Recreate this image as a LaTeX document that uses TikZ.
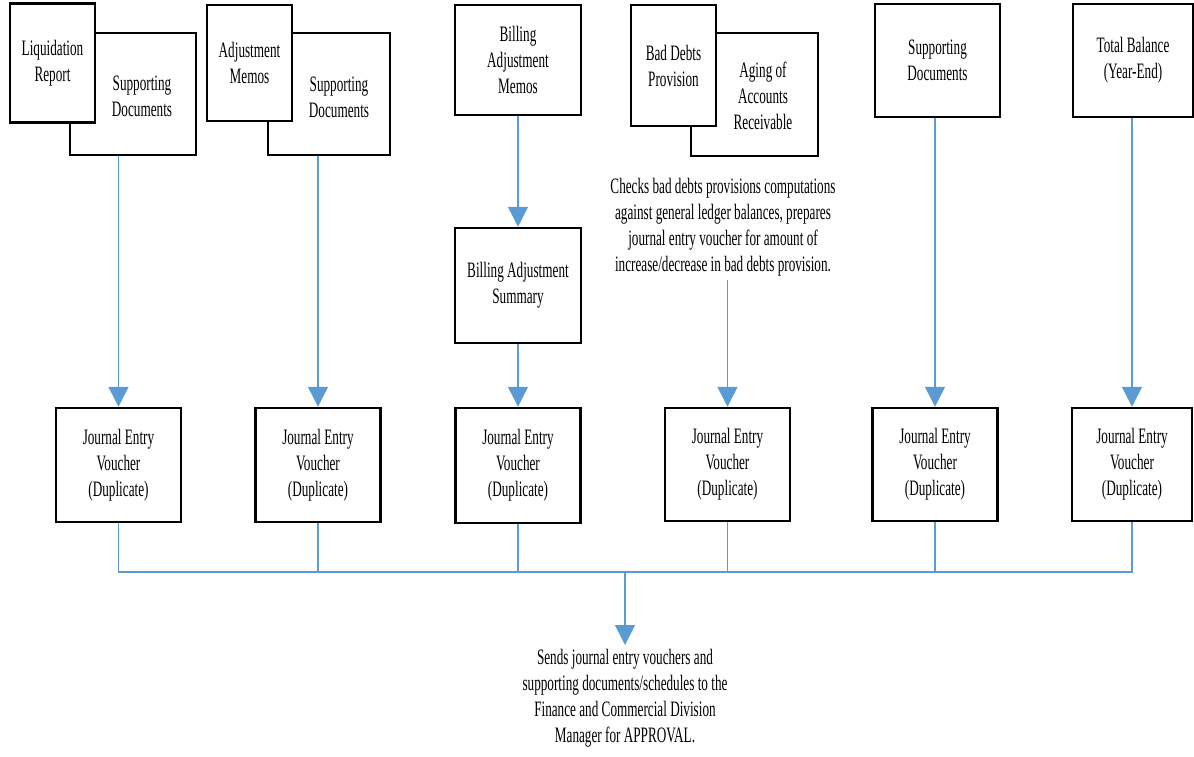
\documentclass[tikz,border=0pt]{standalone}
\usepackage{fontspec}
\setmainfont{Liberation Serif}[FakeStretch=0.6]
\usetikzlibrary{arrows.meta}

\definecolor{flowblue}{RGB}{91,155,213}

\tikzset{
  doc/.style={draw, line width=2.5pt, fill=white, align=center, inner sep=0pt},
  txt/.style={align=center, inner sep=4pt},
  flow/.style={draw=flowblue, line width=1.5pt},
  tip/.style={-{Triangle[length=20pt,width=20pt]}, flowblue}
}

\begin{document}
\begin{tikzpicture}[x=1pt, y=-1pt, font=\fontsize{22}{26}\selectfont]
\useasboundingbox (0,0) rectangle (1194,757);

% back boxes first, front boxes over them
\node[doc, minimum width=126pt, minimum height=122pt] (sup1) at (133,94) {};
\node[doc, minimum width=85pt, minimum height=119pt] (liq) at (52.5,63) {Liquidation\\Report};
\node[txt] (sup1txt) at (142,96.5) {Supporting\\Documents};

\node[doc, minimum width=122pt, minimum height=122pt] (sup2) at (329,94) {};
\node[doc, minimum width=85pt, minimum height=116pt] (adj) at (249.5,63) {Adjustment\\Memos};
\node[txt] (sup2txt) at (339,97) {Supporting\\Documents};

\node[doc, minimum width=126pt, minimum height=110pt] (bam) at (518,60) {Billing\\Adjustment\\Memos};
\node[doc, minimum width=126pt, minimum height=115pt] (bas) at (518,285.5) {Billing Adjustment\\Summary};

\node[doc, minimum width=127pt, minimum height=123pt] (aging) at (754.5,94.5) {};
\node[doc, minimum width=85pt, minimum height=121pt] (bdp) at (673.5,65.5) {Bad Debts\\Provision};
\node[txt] (agingtxt) at (763,96) {Aging of\\Accounts\\Receivable};
\node[txt, anchor=north] (check) at (723,174) {Checks bad debts provisions computations\\against general ledger balances, prepares\\journal entry voucher for amount of\\increase/decrease in bad debts provision.};

\node[doc, minimum width=125pt, minimum height=113pt] (sup5) at (937.5,60.5) {Supporting\\Documents};
\node[doc, minimum width=120pt, minimum height=113pt] (tot) at (1133,60.5) {Total Balance\\(Year-End)};

% journal entry vouchers
\node[doc, minimum width=125pt, minimum height=114pt] (jev1) at (118.5,465) {Journal Entry\\Voucher\\(Duplicate)};
\node[doc, minimum width=125pt, minimum height=114pt] (jev2) at (318,465) {Journal Entry\\Voucher\\(Duplicate)};
\node[doc, minimum width=125pt, minimum height=115pt] (jev3) at (518,465.5) {Journal Entry\\Voucher\\(Duplicate)};
\node[doc, minimum width=125pt, minimum height=113pt] (jev4) at (727.5,464.5) {Journal Entry\\Voucher\\(Duplicate)};
\node[doc, minimum width=125pt, minimum height=113pt] (jev5) at (935,464.5) {Journal Entry\\Voucher\\(Duplicate)};
\node[doc, minimum width=120pt, minimum height=113pt] (jev6) at (1132,464.5) {Journal Entry\\Voucher\\(Duplicate)};

\coordinate (bus) at (625,572);
\node[txt, anchor=north] (approve) at (625,645) {Sends journal entry vouchers and\\supporting documents/schedules to the\\Finance and Commercial Division\\Manager for APPROVAL.};

% down into the vouchers
\draw[flow,tip] (jev1.north |- sup1.south) -- (jev1.north);
\draw[flow,tip] (jev2.north |- sup2.south) -- (jev2.north);
\draw[flow,tip] (bam.south) -- (bas.north);
\draw[flow,tip] (bas.south) -- (jev3.north);
\draw[flow,tip] (jev4.north |- check.south) -- (jev4.north);
\draw[flow,tip] (jev5.north |- sup5.south) -- (jev5.north);
\draw[flow,tip] (jev6.north |- tot.south) -- (jev6.north);

% collecting line
\draw[flow] (jev1.south) -- (jev1.south |- bus) -- (jev6.south |- bus) -- (jev6.south);
\draw[flow] (jev2.south) -- (jev2.south |- bus);
\draw[flow] (jev3.south) -- (jev3.south |- bus);
\draw[flow] (jev4.south) -- (jev4.south |- bus);
\draw[flow] (jev5.south) -- (jev5.south |- bus);
\draw[flow,tip] (bus) -- (approve.north);
\end{tikzpicture}
\end{document}
